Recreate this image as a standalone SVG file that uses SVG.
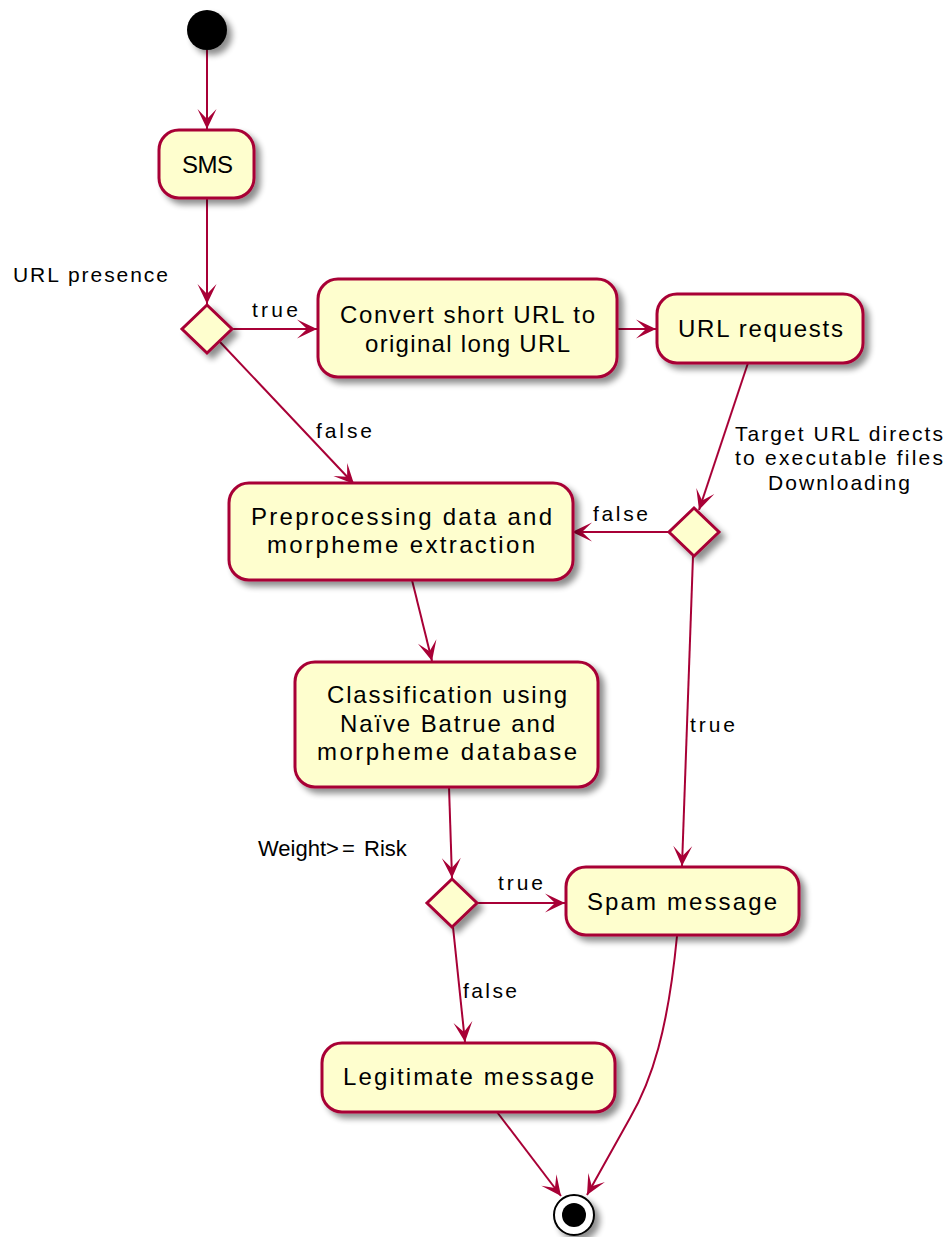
<svg xmlns="http://www.w3.org/2000/svg" width="951" height="1237" viewBox="0 0 951 1237">
  <style>
    .node { fill: #FEFECE; stroke: #A80036; stroke-width: 3; filter: url(#shadow); }
    .edge { fill: none; stroke: #A80036; stroke-width: 2; marker-end: url(#arrow); }
    .t { font-family: "Liberation Sans", Arial, sans-serif; font-size: 24px; fill: #000; }
    .lbl { font-family: "Liberation Sans", Arial, sans-serif; font-size: 21px; fill: #000; }
    .cond { font-family: "Liberation Sans", Arial, sans-serif; font-size: 22px; fill: #000; }
  </style>
  <defs>
    <filter id="shadow" x="-20%" y="-20%" width="150%" height="160%">
      <feGaussianBlur in="SourceAlpha" stdDeviation="3"/>
      <feOffset dx="5" dy="5" result="b"/>
      <feComponentTransfer><feFuncA type="linear" slope="0.45"/></feComponentTransfer>
      <feMerge><feMergeNode/><feMergeNode in="SourceGraphic"/></feMerge>
    </filter>
    <marker id="arrow" markerUnits="userSpaceOnUse" viewBox="-21 -10 23 20" refX="0" refY="0" markerWidth="23" markerHeight="20" orient="auto">
      <path d="M0,0 L-20,-9.5 L-10,0 L-20,9.5 Z" fill="#A80036"/>
    </marker>
  </defs>

  <g id="connectors">
    <line class="edge" x1="207" y1="50" x2="207" y2="129"/>
    <line class="edge" x1="207" y1="198" x2="207" y2="304"/>
    <line class="edge" x1="232" y1="329" x2="317" y2="329"/>
    <text class="lbl" x="252" y="317" textLength="46" lengthAdjust="spacing">true</text>
    <line class="edge" x1="220" y1="342" x2="354" y2="484"/>
    <text class="lbl" x="316" y="438" textLength="56" lengthAdjust="spacing">false</text>
    <line class="edge" x1="617" y1="329" x2="656" y2="329"/>
    <line class="edge" x1="748" y1="363" x2="699" y2="510"/>
    <text class="lbl" x="735" y="441" textLength="208" lengthAdjust="spacing">Target URL directs</text>
    <text class="lbl" x="735" y="465" textLength="208" lengthAdjust="spacing">to executable files</text>
    <text class="lbl" x="768" y="490" textLength="142" lengthAdjust="spacing">Downloading</text>
    <line class="edge" x1="669" y1="532" x2="572" y2="532"/>
    <text class="lbl" x="593" y="521" textLength="55" lengthAdjust="spacing">false</text>
    <line class="edge" x1="693" y1="556" x2="682" y2="866"/>
    <text class="lbl" x="690" y="732" textLength="45" lengthAdjust="spacing">true</text>
    <line class="edge" x1="412" y1="580" x2="432" y2="661"/>
    <line class="edge" x1="449" y1="787" x2="452" y2="878"/>
    <line class="edge" x1="477" y1="903" x2="565" y2="903"/>
    <text class="lbl" x="498" y="890" textLength="45" lengthAdjust="spacing">true</text>
    <line class="edge" x1="453" y1="927" x2="465" y2="1042"/>
    <text class="lbl" x="463" y="998" textLength="54" lengthAdjust="spacing">false</text>
    <line class="edge" x1="497" y1="1112" x2="561" y2="1196"/>
    <path class="edge" d="M677,936 C668,1030 652,1080 630,1118 C612,1150 598,1175 587,1195"/>
  </g>

  <g id="start">
    <circle cx="207" cy="30" r="20" fill="#000" filter="url(#shadow)"/>
  </g>

  <g id="sms">
    <rect class="node" x="159" y="130" width="95" height="68" rx="20"/>
    <text class="t" x="182" y="173" textLength="51" lengthAdjust="spacing">SMS</text>
  </g>

  <g id="url-presence">
    <polygon class="node" points="207,305 232,329 207,353 182,329"/>
    <text class="lbl" x="13" y="282" textLength="155" lengthAdjust="spacing">URL presence</text>
  </g>

  <g id="convert-url">
    <rect class="node" x="318" y="279" width="299" height="98" rx="20"/>
    <text class="t" x="340" y="323" textLength="255" lengthAdjust="spacing">Convert short URL to</text>
    <text class="t" x="365" y="352" textLength="205" lengthAdjust="spacing">original long URL</text>
  </g>

  <g id="url-requests">
    <rect class="node" x="657" y="294" width="206" height="69" rx="20"/>
    <text class="t" x="678" y="337" textLength="165" lengthAdjust="spacing">URL requests</text>
  </g>

  <g id="download-check">
    <polygon class="node" points="694,508 719,532 694,556 669,532"/>
  </g>

  <g id="preprocessing">
    <rect class="node" x="229" y="483" width="344" height="97" rx="20"/>
    <text class="t" x="251" y="525" textLength="301" lengthAdjust="spacing">Preprocessing data and</text>
    <text class="t" x="267" y="553" textLength="268" lengthAdjust="spacing">morpheme extraction</text>
  </g>

  <g id="classification">
    <rect class="node" x="295" y="662" width="303" height="125" rx="20"/>
    <text class="t" x="327" y="703" textLength="240" lengthAdjust="spacing">Classification using</text>
    <text class="t" x="340" y="732" textLength="215" lengthAdjust="spacing">Naïve Batrue and</text>
    <text class="t" x="317" y="760" textLength="260" lengthAdjust="spacing">morpheme database</text>
  </g>

  <g id="weight-check">
    <polygon class="node" points="452,879 477,903 452,927 427,903"/>
    <text class="cond" y="856"><tspan x="258">Weight&gt;</tspan><tspan x="342">=</tspan><tspan x="364">Risk</tspan></text>
  </g>

  <g id="spam">
    <rect class="node" x="566" y="867" width="233" height="68" rx="20"/>
    <text class="t" x="587" y="910" textLength="190" lengthAdjust="spacing">Spam message</text>
  </g>

  <g id="legitimate">
    <rect class="node" x="322" y="1043" width="293" height="69" rx="20"/>
    <text class="t" x="343" y="1085" textLength="251" lengthAdjust="spacing">Legitimate message</text>
  </g>

  <g id="end">
    <circle cx="574" cy="1215" r="20" fill="#fff" stroke="#000" stroke-width="2" filter="url(#shadow)"/>
    <circle cx="574" cy="1215" r="12" fill="#000"/>
  </g>
</svg>
